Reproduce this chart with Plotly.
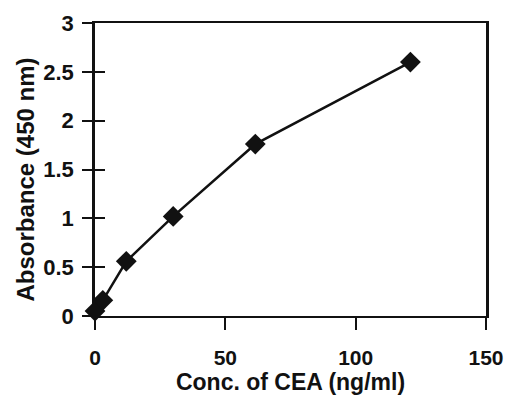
import plotly.graph_objects as go

conc = [0, 3, 12, 30, 61.5, 121]
absorbance = [0.05, 0.16, 0.56, 1.02, 1.76, 2.6]
x_ticks = [0, 50, 100, 150]
x_tick_text = ["0", "50", "100", "150"]
y_ticks = [0, 0.5, 1, 1.5, 2, 2.5, 3]
y_tick_text = ["0", "0.5", "1", "1.5", "2", "2.5", "3"]

FAM = "Liberation Sans, Arial, sans-serif"
INK = "#111"

fig = go.Figure()
fig.add_trace(go.Scatter(
    x=conc, y=absorbance, mode="lines+markers",
    line=dict(color=INK, width=2.5),
    marker=dict(symbol="diamond", size=16, color=INK),
    showlegend=False, cliponaxis=False,
))
fig.add_trace(go.Scatter(x=conc, y=absorbance, yaxis="y2", mode="none",
                         showlegend=False, hoverinfo="skip"))

fig.update_layout(
    width=505, height=391,
    margin=dict(l=87, r=27, t=15, b=83, autoexpand=False),
    paper_bgcolor="white", plot_bgcolor="white",
    font=dict(family=FAM, size=20, color=INK),
    xaxis=dict(
        range=[0, 150], tickvals=x_ticks,
        ticktext=["<b>%s</b>" % t for t in x_tick_text],
        ticks="outside", ticklen=12, tickwidth=2, tickcolor=INK,
        showgrid=False, zeroline=False, automargin=False,
        showline=True, linecolor=INK, linewidth=2, mirror=True,
        tickfont=dict(family=FAM, size=21, color=INK),
        ticklabelstandoff=10,
        title=dict(text="<b>Conc. of CEA (ng/ml)</b>", standoff=4,
                   font=dict(family=FAM, size=23, color=INK)),
    ),
    yaxis=dict(
        range=[0, 3], tickvals=y_ticks,
        ticktext=["<b>%s</b>" % t for t in y_tick_text],
        ticks="outside", ticklen=10, tickwidth=2, tickcolor=INK,
        showgrid=False, zeroline=False, automargin=False,
        showline=True, linecolor=INK, linewidth=2.5, mirror=True,
        tickfont=dict(family=FAM, size=22, color=INK),
        ticklabelstandoff=4,
    ),
    yaxis2=dict(
        range=[0, 3], tickvals=y_ticks, ticks="inside", ticklen=10,
        tickwidth=2, tickcolor=INK, showticklabels=False, showgrid=False,
        zeroline=False, showline=False, overlaying="y", side="left",
    ),
    annotations=[dict(
        text="<b>Absorbance (450 nm)</b>", textangle=-90,
        xref="paper", yref="paper", x=0, y=0.5,
        xanchor="center", yanchor="middle", xshift=-70, yshift=-10,
        showarrow=False, font=dict(family=FAM, size=24, color=INK),
    )],
)

fig.write_html("out.html")
